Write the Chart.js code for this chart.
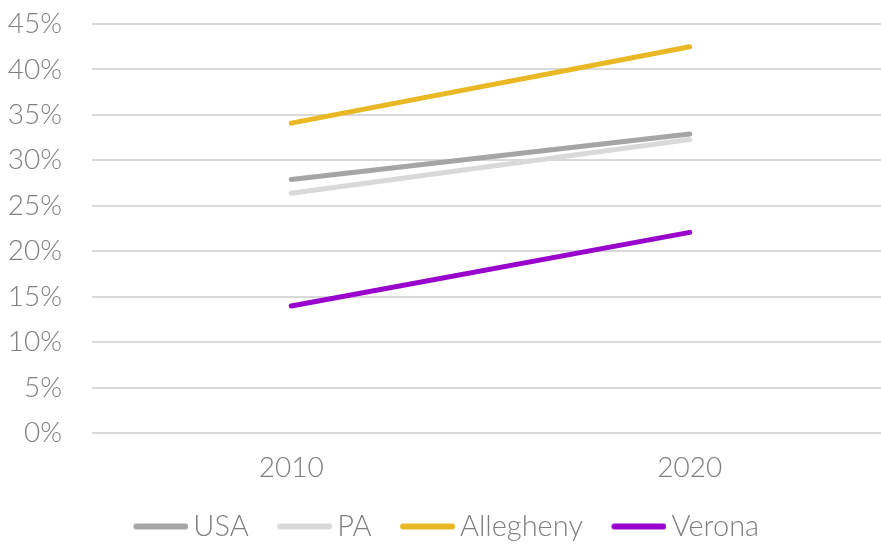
<!DOCTYPE html>
<html><head><meta charset="utf-8">
<script src="https://cdn.jsdelivr.net/npm/chart.js@4/dist/chart.umd.min.js"></script>
<style>html,body{margin:0;padding:0;background:#fff}#wrap{width:881px;height:544px}</style>
</head><body><div id="wrap"><canvas id="c" width="881" height="544"></canvas></div>
<script>
const categories = ["2010", "2020"];
const usa = [27.9, 32.9];
const pa = [26.4, 32.3];
const allegheny = [34.1, 42.5];
const verona = [14.0, 22.1];
const seriesNames = ["USA", "PA", "Allegheny", "Verona"];
const colors = ["#A5A5A5", "#D9D9D9", "#E9B824", "#9A05CD"];

const series = [usa, pa, allegheny, verona];
const FONT = "Lato, 'Open Sans', sans-serif";
const FS = 28;
const LFS = 29;
const BOXW = 57;
function legendLine(color) {
  const cv = document.createElement('canvas');
  cv.width = 76; cv.height = 10;
  const g = cv.getContext('2d');
  g.strokeStyle = color; g.lineWidth = 6; g.lineCap = 'round';
  g.beginPath(); g.moveTo(24, 5); g.lineTo(73, 5); g.stroke();
  return cv;
}
new Chart(document.getElementById('c'), {
  type: 'line',
  data: {
    datasets: series.map((d, i) => ({
      label: seriesNames[i],
      data: d.map((v, j) => ({ x: Number(categories[j]), y: v })),
      borderColor: colors[i], backgroundColor: colors[i],
      borderWidth: 5, borderCapStyle: 'round', pointRadius: 0, pointHoverRadius: 0,
      pointStyle: legendLine(colors[i]), tension: 0
    }))
  },
  options: {
    responsive: false, animation: false,
    layout: { padding: { left: 0, right: 0, top: 0, bottom: -7 } },
    plugins: {
      legend: {
        position: 'bottom',
        labels: {
          usePointStyle: true, pointStyleWidth: BOXW, boxHeight: 10,
          color: '#7F7F7F', font: { family: FONT, size: LFS, weight: 300 }, padding: 17
        }
      },
      tooltip: { enabled: false }
    },
    scales: {
      x: {
        type: 'linear', min: 2005, max: 2024.8,
        afterBuildTicks: s => { s.ticks = categories.map(c => ({ value: Number(c) })); },
        grid: { display: false },
        border: { display: false },
        ticks: { color: '#7F7F7F', font: { family: FONT, size: FS, weight: 300 }, padding: 10,
          callback: v => String(v) }
      },
      y: {
        min: 0, max: 45,
        grid: { color: '#D9D9D9', lineWidth: 2, drawTicks: false },
        border: { display: false },
        afterFit: s => { s.paddingTop = 24; s.paddingBottom = 17; s.width = 92; },
        ticks: { stepSize: 5, color: '#7F7F7F', font: { family: FONT, size: FS, weight: 300 }, padding: 30,
          callback: v => v + '%' }
      }
    }
  }
});
</script></body></html>
